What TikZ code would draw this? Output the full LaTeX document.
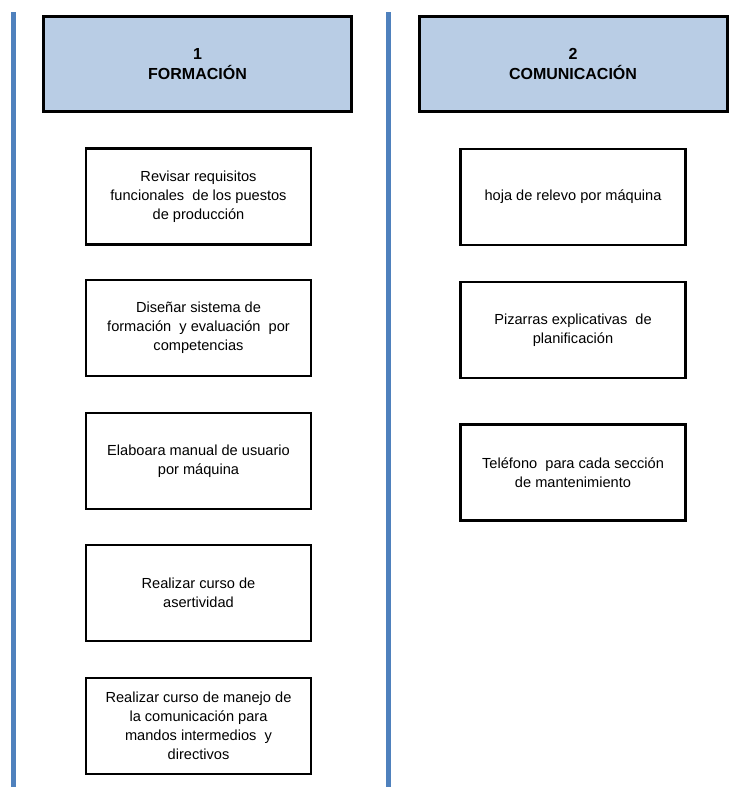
\documentclass[tikz,border=0pt]{standalone}
\usepackage{fontspec}
\setmainfont{Liberation Sans}
\definecolor{headfill}{HTML}{B9CDE5}
\definecolor{divblue}{HTML}{4F81BD}
\begin{document}
\begin{tikzpicture}[x=1pt,y=-1pt,
  header/.style={draw=black, line width=3pt, fill=headfill,
    minimum width=308pt, minimum height=95pt, inner sep=0pt,
    align=center, font=\fontsize{16}{20}\selectfont\bfseries},
  task/.style={draw=black, line width=2.7pt,
    minimum width=225pt, minimum height=96pt, inner sep=0pt,
    align=center, font=\fontsize{14.6}{19}\selectfont},
  divider/.style={draw=divblue, line width=5pt}]
  \useasboundingbox (0,0) rectangle (751,787);

  % vertical column dividers
  \draw[divider] (13.5,12) -- (13.5,787);
  \draw[divider] (388.5,12) -- (388.5,787);

  % column headers
  \node[header] (h1) at (197.5,64) {1\\FORMACIÓN};
  \node[header] (h2) at (573,64) {2\\COMUNICACIÓN};

  % column 1: training actions
  \node[task] (f1) at (198.5,196.5) {Revisar requisitos\\funcionales \ de los puestos\\de producción};
  \node[task] (f2) at (198.5,328) {Diseñar sistema de\\formación \ y evaluación \ por\\competencias};
  \node[task] (f3) at (198.5,461) {Elaboara manual de usuario\\por máquina};
  \node[task] (f4) at (198.5,593) {Realizar curso de\\asertividad};
  \node[task] (f5) at (198.5,726) {Realizar curso de manejo de\\la comunicación para\\mandos intermedios \ y\\directivos};

  % column 2: communication actions
  \node[task] (c1) at (573,197) {hoja de relevo por máquina};
  \node[task] (c2) at (573,330) {Pizarras explicativas \ de\\planificación};
  \node[task] (c3) at (573,472.5) {Teléfono \ para cada sección\\de mantenimiento};
\end{tikzpicture}
\end{document}
